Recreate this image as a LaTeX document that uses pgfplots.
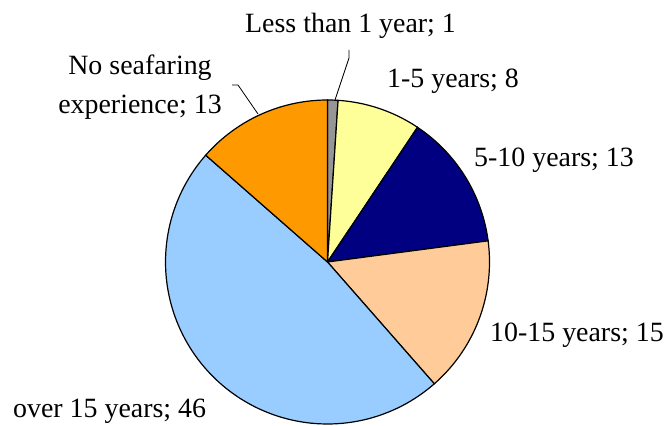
\documentclass[border=0pt]{standalone}
\usepackage{fontspec}
\setmainfont{Liberation Serif}
\usepackage{pgfplots}
\usepackage{pgfplotstable}
\pgfplotsset{compat=1.18}

\definecolor{cLess}{HTML}{969696}
\definecolor{cOne}{HTML}{FFFF99}
\definecolor{cFive}{HTML}{000080}
\definecolor{cTen}{HTML}{FFCC99}
\definecolor{cOver}{HTML}{99CCFF}
\definecolor{cNone}{HTML}{FF9900}

% seafaring experience, clockwise from the top
\pgfplotstableread{
value color
1  cLess
8  cOne
13 cFive
15 cTen
46 cOver
13 cNone
}\piedata

% total and slice angles
\def\total{0}
\foreach \i in {0,...,5}{%
  \pgfplotstablegetelem{\i}{value}\of\piedata
  \pgfmathsetmacro\tmpsum{\total+\pgfplotsretval}%
  \xdef\total{\tmpsum}%
}
\def\cum{0}
\foreach \i in {0,...,5}{%
  \pgfplotstablegetelem{\i}{value}\of\piedata
  \pgfmathsetmacro\angA{90-\cum/\total*360}%
  \pgfmathsetmacro\newcum{\cum+\pgfplotsretval}%
  \pgfmathsetmacro\angB{90-\newcum/\total*360}%
  \expandafter\xdef\csname pa\i\endcsname{\angB}%
  \expandafter\xdef\csname pb\i\endcsname{\angA}%
  \xdef\cum{\newcum}%
  \pgfplotstablegetelem{\i}{color}\of\piedata
  \expandafter\xdef\csname pc\i\endcsname{\pgfplotsretval}%
}

\begin{document}
\begin{tikzpicture}[every node/.append style={font=\fontsize{28}{32}\selectfont, inner sep=0pt}]
\begin{axis}[
    width=668bp, height=426bp, scale only axis,
    xmin=0, xmax=668, ymin=0, ymax=426,
    enlargelimits=false,
    axis line style={draw=none},
    ticks=none,
    clip=false,
    slice/.style={draw=black, line width=1.2bp, samples=100},
]
\pgfplotsinvokeforeach{0,...,5}{
  \edef\doslice{\noexpand\addplot[slice, fill=\csname pc#1\endcsname,
      domain=\csname pa#1\endcsname:\csname pb#1\endcsname]}
  \doslice ({327.5+162*cos(x)},{164+162*sin(x)}) -- (axis cs:327.5,164) -- cycle;
}

% leader lines
\draw[black, line width=0.8bp] (axis cs:349,376) -- (axis cs:349,368) -- (axis cs:335,326);
\draw[black, line width=0.8bp] (axis cs:232,341) -- (axis cs:238,341) -- (axis cs:258,312);

% labels
\node[anchor=base west] at (axis cs:245,393) {Less than 1 year; 1};
\node[anchor=base west] at (axis cs:387,338) {1-5 years; 8};
\node[anchor=base west] at (axis cs:474,259) {5-10 years; 13};
\node[anchor=base west] at (axis cs:490,84) {10-15 years; 15};
\node[anchor=base west] at (axis cs:13,9) {over 15 years; 46};
\node[anchor=base] at (axis cs:140,351) {No seafaring};
\node[anchor=base] at (axis cs:140,312) {experience; 13};
\end{axis}
\end{tikzpicture}
\end{document}
